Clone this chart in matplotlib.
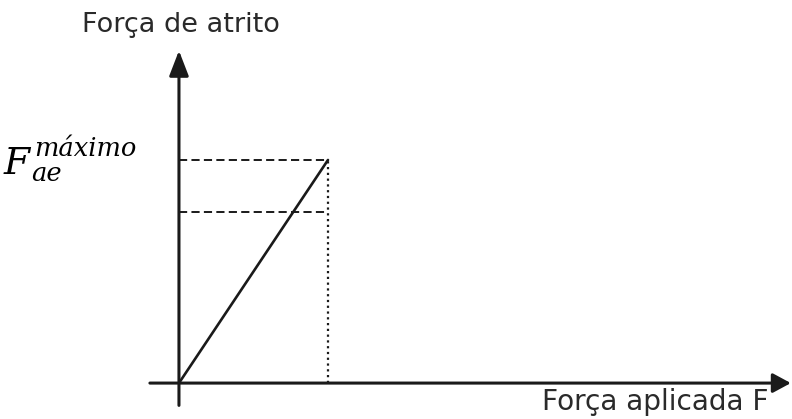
import matplotlib
matplotlib.use("Agg")
import matplotlib.pyplot as plt

# Data (arbitrary units)
F_points = [0.0, 1.0]          # applied force at origin and at max static friction
friction_points = [0.0, 1.0]   # static friction grows linearly up to max
fae_max = 1.0
fk_level = 0.767
x_axis_end = 4.106
y_axis_end = 1.49

title_y = "Força de atrito"
title_x = "Força aplicada F"

W, H = 792, 419
fig = plt.figure(figsize=(W / 100, H / 100), dpi=100)
ax = fig.add_axes([0, 0, 1, 1])
ax.set_xlim(-1.201, 4.114)
ax.set_ylim(-0.161, 1.717)
ax.axis('off')

c = '#1a1a1a'
# axes with arrows
ax.annotate('', xy=(x_axis_end, 0), xytext=(-0.195, 0),
            arrowprops=dict(arrowstyle='-|>,head_length=0.5,head_width=0.27', lw=2.2, color=c,
                            mutation_scale=22, shrinkA=0, shrinkB=0))
ax.annotate('', xy=(0, y_axis_end), xytext=(0, -0.1),
            arrowprops=dict(arrowstyle='-|>,head_length=0.7,head_width=0.27', lw=2.2, color=c,
                            mutation_scale=22, shrinkA=0, shrinkB=0))

# friction line
ax.plot(F_points, friction_points, color=c, lw=1.9, solid_capstyle='round')
# dashed levels
ax.plot([0, F_points[1]], [fae_max, fae_max], color=c, lw=1.4, ls=(0, (4.2, 2.2)))
ax.plot([0, F_points[1]], [fk_level, fk_level], color=c, lw=1.4, ls=(0, (4.2, 2.2)))
# dotted vertical
ax.plot([F_points[1], F_points[1]], [0, fae_max], color=c, lw=1.6, ls=(0, (1, 1.6)))

def px(x, y):
    return x / W, 1 - y / H

fig.text(*px(82, 32), title_y, fontsize=19.5, family='DejaVu Sans',
         color='#2a2a2a', va='baseline', ha='left')
fig.text(*px(768, 410), title_x, fontsize=20.2, family='DejaVu Sans',
         color='#2a2a2a', va='baseline', ha='right')

# F_ae^máximo label
fig.text(*px(4, 174), 'F', fontsize=27, family='DejaVu Serif', style='italic',
         color='black', va='baseline', ha='left')
fig.text(*px(34, 156), 'máximo', fontsize=18.5, family='DejaVu Serif', style='italic',
         color='black', va='baseline', ha='left')
fig.text(*px(31, 181), 'ae', fontsize=18.5, family='DejaVu Serif', style='italic',
         color='black', va='baseline', ha='left')

fig.savefig('out.png', dpi=100)
